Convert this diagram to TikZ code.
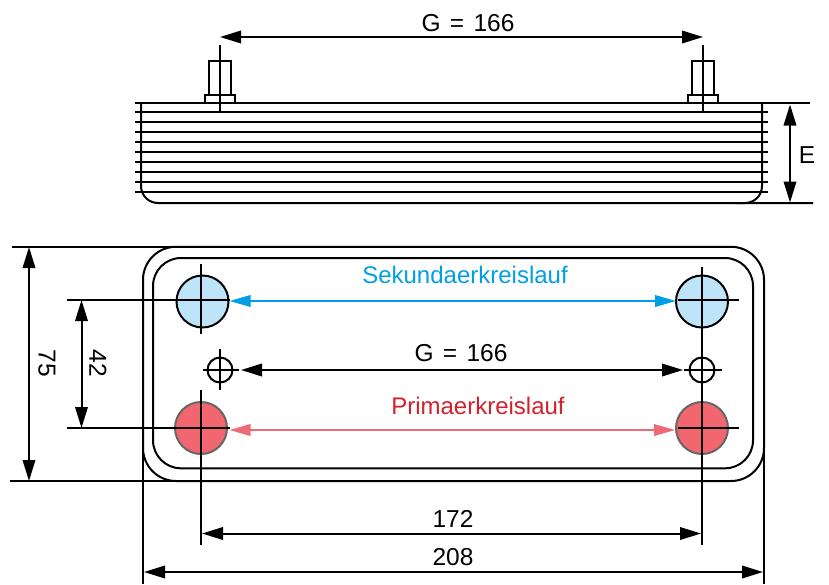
\documentclass[tikz,border=0pt]{standalone}
\usepackage{fontspec}
\setmainfont{Liberation Sans}
\usetikzlibrary{arrows.meta}
\definecolor{kblue}{HTML}{009FE3}
\definecolor{kbluefill}{HTML}{BDE4F9}
\definecolor{kredfill}{HTML}{F1666F}
\definecolor{kredtext}{HTML}{D2202C}
\definecolor{kredline}{HTML}{EE6A74}
\tikzset{
  part/.style={line width=2pt,black},
  fin/.style={line width=2pt,black},
  dim/.style={line width=2pt,black,{Triangle[length=21pt,width=12.5pt]}-{Triangle[length=21pt,width=12.5pt]}},
  circuit/.style={line width=2pt,{Triangle[length=21pt,width=11.5pt]}-{Triangle[length=21pt,width=11.5pt]}},
  label/.style={font=\fontsize{24.5}{28}\selectfont,inner sep=0pt,text=black},
  colabel/.style={font=\fontsize{24}{28}\selectfont,inner sep=0pt},
  port/.style={circle,inner sep=0pt,minimum size=52pt,line width=2pt},
  blueport/.style={port,draw=black,fill=kbluefill},
  redport/.style={port,draw=black!60,fill=kredfill},
  pin/.style={circle,inner sep=0pt,minimum size=25pt,draw=black,line width=2pt}
}
\begin{document}
\begin{tikzpicture}[x=1pt,y=-1pt]
\useasboundingbox (0,0) rectangle (829,584);
% --- side view ---
\foreach \yy in {112,122,132,142,152,162,172,182,192}
  \draw[fin] (135,\yy) -- (768,\yy);
\draw[fin] (135,103.3) -- (810,103.3);
\draw[part,rounded corners=17pt] (141,103.3) -- (141,203) -- (813,203);
\draw[part,rounded corners=17pt] (762,103.3) -- (762,203) -- (735,203);
% bolts
\foreach \xx in {220,703}{
  \draw[line width=1.8pt] (\xx-10.7,94.6) -- (\xx-10.7,61) -- (\xx+10.7,61) -- (\xx+10.7,94.6);
  \draw[line width=1.8pt] (\xx-15,103.3) -- (\xx-15,94.6) -- (\xx+15,94.6) -- (\xx+15,103.3);
  \draw[part] (\xx,44.5) -- (\xx,111);
}
\coordinate (gtl) at (220,37);
\coordinate (gtr) at (703,37);
\draw[dim] (gtl) -- (gtr);
\node[label] (gtop) at (468,23) {G\hspace{9.3pt}=\hspace{9.3pt}166};
\coordinate (et) at (790,104.5);
\coordinate (eb) at (790,202.5);
\draw[dim] (et) -- (eb);
\node[label] (elabel) at (807,155) {E};
% --- plate ---
\draw[part,rounded corners=33pt] (143,246.8) rectangle (764,481);
\draw[part,rounded corners=28pt] (153,258) rectangle (753,468.3);
% ports
\node[blueport] (bl) at (202.5,301.5) {};
\node[blueport] (br) at (702,301.5) {};
\node[redport] (rl) at (201,428) {};
\node[redport] (rr) at (702,428) {};
\node[pin] (pl) at (220,370) {};
\node[pin] (pr) at (702,370) {};
% centre and extension lines
\draw[part] (67,299.8) -- (230,299.8);
\draw[part] (678,299.8) -- (739,299.8);
\draw[part] (67,428.3) -- (230,428.3);
\draw[part] (678,428.3) -- (739,428.3);
\draw[part] (201,264) -- (201,334);
\draw[part] (201,390) -- (201,545);
\draw[part] (702,267) -- (702,545);
\draw[part] (203,370) -- (239,370);
\draw[part] (684,370) -- (722,370);
\draw[part] (220,349) -- (220,390);
\draw[part] (143,448) -- (143,584);
\draw[part] (764,448) -- (764,584);
\draw[part] (12,246.8) -- (188,246.8);
\draw[part] (10,481) -- (180,481);
% inner dimensions
\coordinate (sl) at (229.5,301);
\coordinate (sr) at (676,301);
\draw[circuit,kblue] (sl) -- (sr);
\coordinate (cl) at (229.5,430);
\coordinate (cr) at (675,430);
\draw[circuit,kredline] (cl) -- (cr);
\coordinate (gl) at (241,370);
\coordinate (gr) at (683,370);
\draw[dim] (gl) -- (gr);
\node[colabel,text=kblue] (sek) at (465,274.5) {Sekundaerkreislauf};
\node[colabel,text=kredtext] (pri) at (478,405.5) {Primaerkreislauf};
\node[label] (gmid) at (461,353) {G\hspace{9.3pt}=\hspace{9.3pt}166};
% outer dimensions
\coordinate (d75t) at (29,247);
\coordinate (d75b) at (29,481);
\draw[dim] (d75t) -- (d75b);
\node[label,rotate=-90] (n75) at (47,363) {75};
\coordinate (d42t) at (81.5,300);
\coordinate (d42b) at (81.5,428);
\draw[dim] (d42t) -- (d42b);
\node[label,rotate=-90] (n42) at (98,363) {42};
\coordinate (d172l) at (202,533.5);
\coordinate (d172r) at (701,533.5);
\draw[dim] (d172l) -- (d172r);
\node[label] (n172) at (453,519) {172};
\coordinate (d208l) at (144,572);
\coordinate (d208r) at (763,572);
\draw[dim] (d208l) -- (d208r);
\node[label] (n208) at (453,557) {208};
\end{tikzpicture}
\end{document}
